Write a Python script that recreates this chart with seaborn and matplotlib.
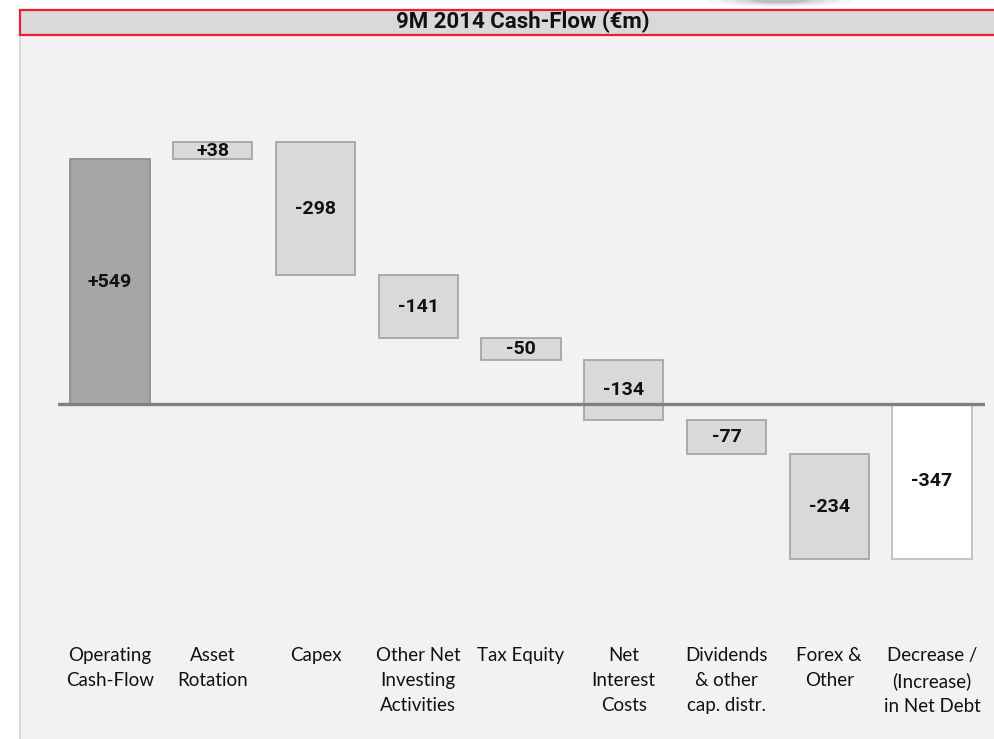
import numpy as np
import pandas as pd
import seaborn as sns
import matplotlib.pyplot as plt
from matplotlib.patches import Rectangle, Ellipse

# data (EUR m)
categories = ['Operating\nCash-Flow', 'Asset\nRotation', 'Capex', 'Other Net\nInvesting\nActivities',
              'Tax Equity', 'Net\nInterest\nCosts', 'Dividends\n& other\ncap. distr.', 'Forex &\nOther',
              'Decrease /\n(Increase)\nin Net Debt']
values = [549, 38, -298, -141, -50, -134, -77, -234, -347]
value_labels = ['+549', '+38', '-298', '-141', '-50', '-134', '-77', '-234', '-347']
face_colors = ['#A6A6A6'] + ['#D9D9D9'] * 7 + ['#FFFFFF']
edge_colors = ['#8F8F8F'] + ['#A6A6A6'] * 7 + ['#BFBFBF']

# waterfall starting points: cumulative for flows, zero for first and total bar
starts = [0] + list(np.cumsum(values[:-2])) + [0]

df = pd.DataFrame({'cat': categories, 'value': values})

sns.set_style("white")
plt.rcParams['font.family'] = ['Lato', 'DejaVu Sans']
bold_font = ['Roboto', 'DejaVu Sans']

W, H = 995, 739
fig = plt.figure(figsize=(W / 100, H / 100), dpi=100)
fig.patch.set_facecolor('white')

# panel background, border and title bar
fig.add_artist(Rectangle((21 / W, 0), 1 - 21 / W, 1 - 35 / H, transform=fig.transFigure,
                         facecolor='#F2F2F2', edgecolor='none', zorder=0))
fig.add_artist(Rectangle((19 / W, 0), 2 / W, 1 - 35 / H, transform=fig.transFigure,
                         facecolor='#D9D9D9', edgecolor='none', zorder=0))
for i, a in enumerate([0.05, 0.08, 0.12, 0.18]):
    fig.add_artist(Ellipse((780 / W, 1.0), (150 - 30 * i) / W, (14 - 2.5 * i) / H,
                           transform=fig.transFigure, facecolor='#555555', alpha=a,
                           edgecolor='none', zorder=0))
fig.add_artist(Rectangle((20 / W, 1 - 35 / H), 1.01 - 20 / W, 25 / H, transform=fig.transFigure,
                         facecolor='#D9D9D9', edgecolor='#ED1C2E', linewidth=1.6, zorder=1))
fig.text(523 / W, 1 - 22 / H, '9M 2014 Cash-Flow (€m)', ha='center', va='center',
         fontsize=16, fontweight='bold', family=bold_font, color='#111111')

ax = fig.add_axes([58 / W, 1 - 636 / H, (985 - 58) / W, (636 - 60) / H])
ax.set_facecolor('none')

sns.barplot(data=df, x='cat', y='value', color='#D9D9D9', width=0.77, ax=ax,
            linewidth=1.3, zorder=2)

for p, s, fc, ec in zip(ax.patches, starts, face_colors, edge_colors):
    p.set_y(s)
    p.set_facecolor(fc)
    p.set_edgecolor(ec)

for i, (s, v, lab) in enumerate(zip(starts, values, value_labels)):
    ax.text(i, s + v / 2, lab, ha='center', va='center', fontsize=14,
            fontweight='bold', family=bold_font, color='#111111', zorder=3)

ax.axhline(0, color='#808080', linewidth=2.4, zorder=4)

ax.set_xlim(-0.506, 8.516)
ax.set_ylim(-520, 771)
ax.set_xlabel('')
ax.set_ylabel('')
ax.set_yticks([])
ax.tick_params(axis='x', length=0, pad=8, labelsize=13.5, labelcolor='#111111')
for lbl in ax.get_xticklabels():
    lbl.set_linespacing(1.55)
sns.despine(ax=ax, left=True, bottom=True)

fig.savefig('out.png', dpi=100, facecolor=fig.get_facecolor())
